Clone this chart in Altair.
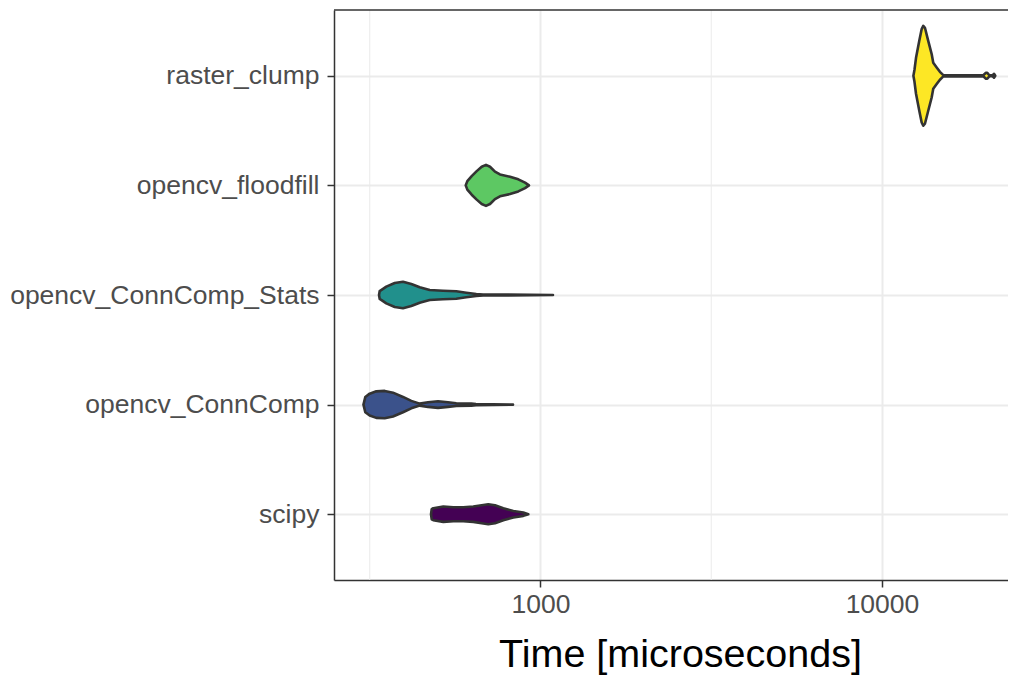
import altair as alt
import pandas as pd

methods = ["scipy", "opencv_ConnComp", "opencv_ConnComp_Stats", "opencv_floodfill", "raster_clump"]
fills = ["#440154", "#3B528B", "#21908C", "#5DC863", "#FDE725"]

# violin profiles: time (microseconds) and half-width (category units)
scipy_time = [478.0, 480.2, 485.5, 519.3, 555.5, 594.2, 635.6, 672.7, 703.3, 735.8, 778.2, 832.5, 890.5, 921.0]
scipy_half = [0.0, 0.046, 0.055, 0.070, 0.064, 0.064, 0.070, 0.082, 0.091, 0.082, 0.055, 0.030, 0.015, 0.0]

conncomp_time = [303.1, 306.9, 316.1, 330.5, 349.8, 369.9, 395.7, 418.5, 442.9, 468.4, 501.1, 535.9, 566.8, 627.2, 647.3, 830.8]
conncomp_half = [0.0, 0.070, 0.100, 0.121, 0.125, 0.109, 0.070, 0.034, 0.009, 0.021, 0.030, 0.021, 0.012, 0.009, 0.005, 0.0]

stats_time = [336.6, 338.2, 353.6, 374.2, 395.7, 418.5, 442.9, 473.7, 518.1, 566.8, 606.5, 648.6, 678.8, 1088.0]
stats_half = [0.0, 0.036, 0.076, 0.109, 0.121, 0.100, 0.070, 0.046, 0.039, 0.034, 0.021, 0.009, 0.005, 0.0]

flood_time = [604.0, 610.6, 628.8, 650.4, 672.7, 692.5, 711.5, 735.8, 761.0, 814.2, 861.0, 901.2, 925.4]
flood_half = [0.0, 0.039, 0.085, 0.130, 0.170, 0.187, 0.170, 0.125, 0.100, 0.079, 0.055, 0.025, 0.0]

raster_time = [12360, 12450, 12580, 12860, 13070, 13210, 13360, 13660, 13980, 14130, 14460, 14780, 15120,
               19800, 20160, 20340, 20620, 21100, 21280, 21470]
raster_half = [0.0, 0.055, 0.164, 0.319, 0.426, 0.456, 0.438, 0.319, 0.198, 0.119, 0.076, 0.036, 0.006,
               0.005, 0.027, 0.027, 0.005, 0.005, 0.018, 0.0]

x_ticks = [1000, 10000]
x_minor = [316.23, 3162.3]
x_domain = [248.5, 23390]

profiles = [
    (scipy_time, scipy_half),
    (conncomp_time, conncomp_half),
    (stats_time, stats_half),
    (flood_time, flood_half),
    (raster_time, raster_half),
]

rows = []
for i, (m, (ts, hs)) in enumerate(zip(methods, profiles)):
    for t, h in zip(ts, hs):
        rows.append({"method": m, "pos": i + 1, "time": t, "half": h})
df = pd.DataFrame(rows)

xscale = alt.Scale(type="log", domain=x_domain, nice=False)
yscale = alt.Scale(domain=[0.4, 5.6], nice=False, zero=False)

label_list = "[''," + ",".join("'" + m + "'" for m in methods) + "]"

font = "Liberation Sans"
border = "#333333"

x_axis = alt.Axis(
    values=x_ticks, format="d", grid=True, gridColor="#EBEBEB", gridWidth=2,
    domain=True, domainColor=border, domainWidth=1.5,
    tickColor=border, tickWidth=1.5, tickSize=7,
    labelFontSize=26.5, labelColor="#4D4D4D", labelFont=font, labelPadding=4,
    labelOverlap=False, labelFlush=False,
    title="Time [microseconds]", titleFontSize=39.5, titleFont=font,
    titleFontWeight="normal", titleColor="black", titlePadding=18,
    titleX=346, titleAlign="center",
)
y_axis = alt.Axis(
    values=[1, 2, 3, 4, 5], labelExpr=label_list + "[datum.value]",
    grid=True, gridColor="#EBEBEB", gridWidth=2,
    domain=True, domainColor=border, domainWidth=1.5,
    tickColor=border, tickWidth=1.5, tickSize=7,
    labelFontSize=26.5, labelColor="#4D4D4D", labelFont=font, labelPadding=8,
    labelOverlap=False, labelFlush=False, labelLimit=0, title=None,
)

minor = alt.Chart(pd.DataFrame({"v": x_minor})).mark_rule(
    color="#EBEBEB", strokeWidth=1
).encode(x=alt.X("v:Q", scale=xscale, axis=x_axis))

violins = alt.Chart(df).transform_calculate(
    lo="datum.pos - datum.half", hi="datum.pos + datum.half"
).mark_area(
    orient="vertical", stroke=border, strokeWidth=2.6, strokeJoin="round", opacity=1
).encode(
    x=alt.X("time:Q", scale=xscale, axis=x_axis),
    y=alt.Y("lo:Q", scale=yscale, axis=y_axis),
    y2="hi:Q",
    fill=alt.Fill("method:N", scale=alt.Scale(domain=methods, range=fills), legend=None),
)

top_border = alt.Chart(pd.DataFrame({"v": [0]})).mark_rule(
    color=border, strokeWidth=1.5
).encode(y=alt.value(0))

chart = alt.layer(minor, violins, top_border).properties(
    width=674, height=570,
    padding={"left": 326, "top": 2, "right": 0, "bottom": 103},
    autosize="none",
    background="white",
).configure_view(strokeWidth=0)

chart.save("out.html", embed_options={"renderer": "svg", "actions": False})
